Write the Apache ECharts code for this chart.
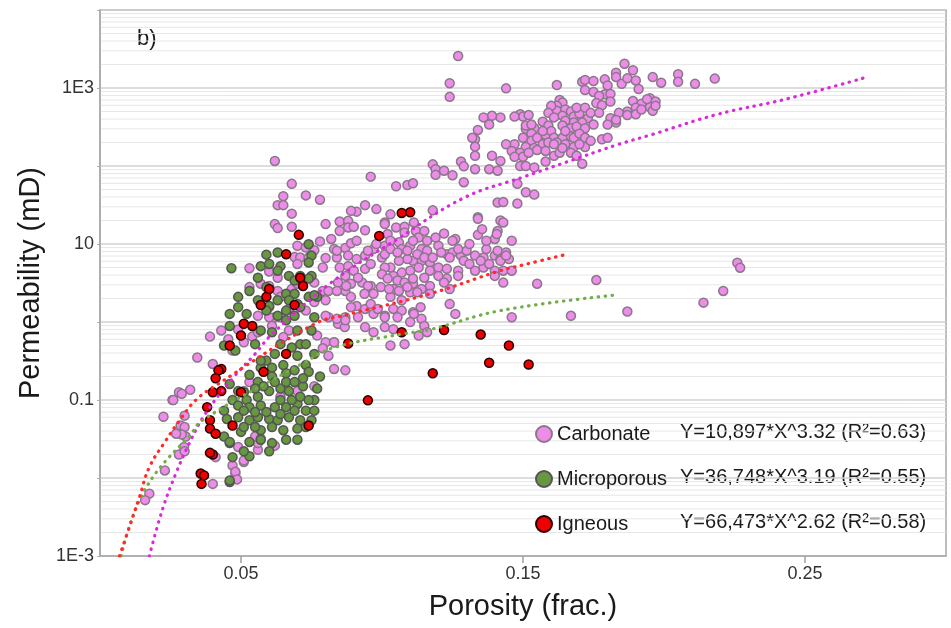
<!DOCTYPE html>
<html>
<head>
<meta charset="utf-8">
<script src="https://cdn.jsdelivr.net/npm/echarts@6/dist/echarts.min.js"></script>
<style>
  html, body { margin: 0; padding: 0; background: #ffffff; }
  #chart { width: 951px; height: 628px; }
</style>
</head>
<body>
<div id="chart"></div>
<script>
// Porosity (fraction) vs permeability (mD) samples by rock type
const carbonate = [
  [0.186,2050],[0.189,1690],[0.183,1570],[0.183,1380],[0.185,1130],[0.187,1330],[0.190,1250],[0.191,970],[0.196,1380],[0.199,1170],
  [0.205,1500],[0.205,1200],[0.211,1130],[0.218,1320],[0.144,990],[0.162,1090],[0.171,1200],[0.172,1270],[0.175,1230],[0.179,1290],
  [0.180,1080],[0.172,940],[0.175,890],[0.179,830],[0.181,840],[0.177,790],[0.181,670],[0.176,640],[0.178,600],[0.189,680],
  [0.192,630],[0.195,740],[0.197,670],[0.195,570],[0.196,510],[0.190,560],[0.187,500],[0.184,480],[0.187,450],[0.190,460],
  [0.181,410],[0.183,360],[0.180,340],[0.163,700],[0.164,650],[0.162,590],[0.162,510],[0.165,530],[0.167,500],[0.164,440],
  [0.168,430],[0.170,470],[0.173,410],[0.171,360],[0.168,360],[0.165,380],[0.164,330],[0.167,305],[0.169,320],[0.172,305],
  [0.175,340],[0.157,370],[0.159,330],[0.154,305],[0.151,300],[0.153,260],[0.150,230],[0.153,210],[0.155,230],[0.158,250],
  [0.160,280],[0.161,230],[0.164,230],[0.167,240],[0.168,230],[0.170,260],[0.172,230],[0.157,190],[0.159,200],[0.162,200],
  [0.165,190],[0.168,175],[0.172,175],[0.151,175],[0.154,170],[0.147,190],[0.144,190],[0.146,156],[0.149,148],[0.147,131],
  [0.150,131],[0.152,148],[0.155,160],[0.158,156],[0.158,114],[0.161,135],[0.163,148],[0.167,148],[0.169,135],[0.171,107],
  [0.178,220],[0.180,230],[0.149,100],[0.151,100],[0.154,96],[0.149,460],[0.150,430],[0.147,430],[0.152,450],[0.142,420],
  [0.139,440],[0.136,420],[0.138,340],[0.134,290],[0.133,220],[0.132,230],[0.133,135],[0.139,135],[0.142,116],[0.138,91],
  [0.141,87],[0.133,91],[0.194,720],
  [0.160,590],[0.159,480],[0.161,420],[0.169,560],[0.172,560],[0.174,480],[0.165,280],[0.151,330],[0.153,340],[0.157,280],
  [0.161,190],[0.164,170],[0.170,190],[0.174,210],[0.177,480],[0.183,390],[0.192,530],[0.197,590],
  [0.127,2570],[0.124,1150],[0.124,770],[0.133,177],[0.128,114],[0.129,99],[0.118,105],[0.119,91],[0.122,87],[0.119,77],
  [0.125,76],[0.129,62],[0.148,59],[0.151,46],[0.154,43],[0.141,34],[0.143,34.5],[0.148,33],[0.096,73],[0.105,55],
  [0.109,57],[0.111,60],[0.073,42],[0.078,37],[0.091,26],[0.094,31.5],[0.098,28],[0.103,24],[0.118,27],[0.134,22],[0.142,20],
  [0.085,19.4],[0.088,19.8],[0.088,16.3],[0.090,16.6],[0.094,15],[0.085,14.7],[0.101,18.9],[0.102,13.4],[0.105,16.3],[0.108,16.6],
  [0.108,14],[0.112,14.7],[0.113,12.1],[0.116,11],[0.122,13.6],[0.126,11.6],[0.134,21],[0.134,13.1],[0.143,18.9],[0.141,14.7],
  [0.140,11.6],[0.082,11.6],[0.083,8.6],[0.087,8.9],[0.089,10.2],[0.091,11],[0.084,6.7],[0.088,7.1],[0.091,6.4],[0.094,7.1],
  [0.085,5.0],[0.088,5.2],[0.087,3.9],[0.090,4.55],[0.094,4.8],[0.096,5.55],[0.100,6.7],[0.097,8.6],[0.101,9.5],[0.103,11],
  [0.106,10.5],[0.107,8.6],[0.110,9.5],[0.111,11],[0.114,8.6],[0.116,8.2],[0.120,9.5],[0.123,7.4],[0.125,7.8],[0.128,7.1],
  [0.130,8.2],[0.133,7.1],[0.136,6.7],[0.140,7.1],[0.142,6.4],[0.145,6.4],[0.141,8.2],[0.144,7.8],[0.137,8.6],[0.127,8.6],
  [0.117,5.8],[0.114,6.1],[0.111,6.1],[0.109,6.4],[0.106,6.1],[0.103,5.0],[0.101,5.0],[0.100,4.1],[0.104,3.9],[0.107,4.3],
  [0.110,4.55],[0.113,5.0],[0.117,4.55],[0.120,5.0],[0.123,4.8],[0.127,4.55],[0.133,4.55],[0.136,5.0],[0.140,4.55],[0.143,4.55],
  [0.146,4.55],[0.089,3.1],[0.093,3.2],[0.096,2.9],[0.102,3.6],[0.111,3.1],[0.114,2.65],[0.117,2.9],[0.123,3.6],[0.124,2.65],
  [0.127,3.9],[0.140,3.9],[0.143,3.2],[0.087,2.5],[0.089,2.1],[0.097,2.3],[0.104,2.65],[0.106,2.5],[0.107,1.9],[0.103,2.1],
  [0.110,2.4],[0.117,2.3],[0.124,1.7],[0.126,1.27],[0.091,1.6],[0.094,1.47],[0.097,1.27],[0.101,1.2],[0.104,1.47],[0.107,1.4],
  [0.111,1.33],[0.114,1.1],[0.115,0.89],[0.087,1.15],[0.085,0.95],[0.094,0.86],[0.097,0.74],[0.101,0.86],[0.104,0.81],[0.110,1.0],
  [0.113,0.67],[0.116,0.74],[0.146,1.15],[0.083,0.55],[0.103,0.5],[0.108,0.52],
  [0.095,8.2],[0.098,10],[0.101,7.4],[0.103,8.6],[0.1055,7.8],[0.109,8.2],[0.1125,7.4],[0.115,6.7],[0.118,6.7],[0.121,7.8],
  [0.124,6.7],[0.129,6.1],[0.131,5.55],[0.135,6.1],[0.138,5.55],[0.142,6.1],[0.144,7.1],[0.1055,3.4],[0.108,3.2],[0.111,3.6],
  [0.115,3.7],[0.120,3.9],[0.122,3.2],[0.0996,2.8],[0.1025,2.65],[0.095,2.9],[0.0915,3.7],[0.0844,3.2],[0.0873,2.9],[0.0938,2.3],
  [0.109,2.8],[0.1125,2.4],[0.096,1.7],[0.0985,1.47],[0.101,1.15],[0.1055,1.15],[0.1113,1.27],[0.1137,1.55],[0.089,1.55],[0.0915,1.15],
  [0.0844,0.95],[0.0868,0.86],[0.101,18],[0.1113,18.9],[0.115,14.7],[0.119,12.1],[0.125,11],[0.131,10],[0.137,11],[0.146,11],
  [0.1407,13.4],[0.1355,15.5],[0.089,26.6],
  [0.155,3.1],[0.176,3.45],[0.167,1.2],[0.187,1.36],[0.226,5.75],[0.227,4.97],[0.221,2.5],[0.214,1.77],
  [0.062,116],[0.068,59],[0.065,41],[0.063,31.5],[0.065,31.5],[0.068,24.5],[0.062,18],[0.063,16],[0.068,16.6],[0.080,18],
  [0.078,10.8],[0.070,9.5],[0.073,9.0],[0.076,8.3],[0.080,6.6],[0.084,8.2],[0.069,6.8],[0.071,6.7],[0.053,4.9],[0.060,4.45],
  [0.063,3.7],[0.070,5.55],[0.074,6.7],[0.079,5.0],[0.076,3.2],[0.079,2.5],[0.081,2.5],[0.053,2.8],[0.057,3.1],[0.060,2.9],
  [0.063,2.5],[0.064,2.1],[0.068,2.65],[0.070,3.1],[0.060,1.55],[0.062,1.15],[0.056,1.2],[0.067,1.47],[0.073,1.4],[0.076,1.8],
  [0.080,1.9],[0.084,2.5],[0.081,1.15],
  [0.039,0.65],[0.0345,0.35],[0.040,0.29],[0.047,0.43],[0.028,0.126],[0.032,0.135],[0.0257,0.1],[0.030,0.063],[0.0286,0.047],[0.0304,0.034],
  [0.0298,0.025],[0.041,0.0185],[0.047,0.0145],[0.048,0.0114],[0.040,0.0084],[0.051,0.016],[0.049,0.025],[0.056,0.023],[0.056,0.028],[0.051,0.55],
  [0.054,0.65],[0.056,0.74],[0.060,1.15],[0.064,1.15],[0.061,0.89],[0.067,0.78],[0.065,0.64],[0.080,1.2],[0.084,1.1],[0.087,1.05],
  [0.077,0.67],[0.080,0.55],[0.083,0.55],[0.079,0.46],[0.081,0.37],[0.083,0.25],[0.087,0.24],[0.076,0.15],[0.070,0.13],[0.064,0.11],
  [0.053,0.17],[0.051,0.13],[0.055,0.034],[0.057,0.032],[0.062,0.026],[0.043,0.78],[0.049,0.8],[0.0455,0.6],
  [0.0225,0.061],[0.030,0.045],[0.029,0.036],[0.028,0.02],[0.030,0.022],[0.023,0.0125],[0.0175,0.0063],[0.016,0.0052],[0.048,0.012],[0.0486,0.0096],
  [0.051,0.0168],[0.027,0.037],[0.026,0.1],[0.029,0.12]
];

const microporous = [
  [0.0466,4.9],[0.059,7.3],[0.057,5.2],[0.063,7.8],[0.064,5.2],[0.074,9.95],[0.075,7.1],[0.067,3.9],[0.071,3.9],[0.075,3.9],
  [0.049,2.1],[0.056,1.9],[0.060,1.6],[0.066,2.3],[0.069,2.3],[0.074,2.1],[0.077,2.1],[0.067,1.9],[0.070,1.7],[0.049,1.55],
  [0.046,1.27],[0.052,1.27],[0.063,1.2],[0.076,1.15],[0.069,1.2],
  [0.053,2.5],[0.060,5.55],[0.074,5.8],[0.056,3.7],[0.059,2.8],[0.063,4.55],[0.069,3.4],[0.074,3.6],[0.076,2.2],[0.071,1.55],
  [0.066,1.4],[0.059,1.4],[0.063,1.9],
  [0.046,0.89],[0.057,0.78],[0.061,0.74],[0.044,0.5],[0.048,0.43],[0.059,0.32],[0.057,0.26],[0.061,0.26],[0.065,0.28],[0.070,0.37],
  [0.071,0.52],[0.073,0.52],[0.073,0.28],[0.076,0.39],[0.074,0.23],[0.069,0.24],[0.066,0.22],[0.061,0.2],[0.056,0.17],[0.051,0.126],
  [0.049,0.13],[0.047,0.1],[0.052,0.1],[0.056,0.11],[0.060,0.13],[0.064,0.14],[0.067,0.13],[0.072,0.15],[0.076,0.1],[0.074,0.1],
  [0.070,0.089],[0.066,0.081],[0.062,0.081],[0.057,0.085],[0.053,0.081],[0.049,0.085],[0.044,0.073],[0.045,0.057],[0.049,0.06],[0.053,0.055],
  [0.056,0.06],[0.060,0.057],[0.063,0.055],[0.067,0.06],[0.071,0.055],[0.075,0.055],[0.070,0.031],[0.057,0.041],[0.053,0.019],[0.047,0.0185],
  [0.050,0.039],[0.044,0.034],[0.046,0.028],[0.061,0.028],[0.060,0.022],[0.046,0.0089],[0.065,0.041],
  [0.046,0.16],[0.053,0.21],[0.055,0.14],[0.058,0.15],[0.062,0.17],[0.066,0.17],[0.069,0.17],[0.064,0.1],[0.068,0.1],[0.071,0.11],
  [0.051,0.073],[0.055,0.07],[0.059,0.07],[0.064,0.066],[0.069,0.073],[0.073,0.073],[0.076,0.073],[0.051,0.045],[0.055,0.045],[0.061,0.045],
  [0.070,0.043],[0.073,0.045],[0.053,0.029],[0.057,0.031],[0.066,0.031],[0.051,0.022],[0.057,0.32],[0.062,0.39],[0.068,0.47],[0.064,0.52],
  [0.075,0.78],[0.070,0.78],[0.066,1.05],[0.055,0.52],[0.072,0.19],[0.078,0.2],[0.077,0.14],[0.046,0.029],[0.046,0.0093]
];

const igneous = [
  [0.107,25],[0.110,25.5],[0.099,12.7],[0.107,0.74],[0.122,0.79],[0.135,0.69],[0.145,0.5],[0.088,0.53],[0.138,0.3],[0.152,0.285],
  [0.118,0.22],[0.095,0.099],[0.0705,13.1],[0.066,7.4],[0.071,3.7],[0.072,2.9],[0.059,2.1],[0.057,1.65],[0.069,1.65],[0.060,2.65],
  [0.051,0.95],[0.054,0.89],[0.050,0.67],[0.046,0.5],[0.043,0.25],[0.042,0.24],[0.041,0.19],[0.040,0.126],[0.043,0.13],[0.050,0.126],
  [0.038,0.081],[0.039,0.055],[0.039,0.043],[0.041,0.037],[0.040,0.02],[0.0357,0.0114],[0.0369,0.0108],[0.036,0.0084],[0.047,0.047],[0.074,0.047],
  [0.066,0.39],[0.058,0.23],[0.039,0.021]
];

// Power-law trend curves, sampled along each fitted line
const carbonateFit = [
  [0.0175,0.001],[0.0222,0.004],[0.0269,0.0114],[0.0316,0.0275],[0.0374,0.067],[0.0474,0.196],[0.055,0.39],[0.061,0.7],
  [0.082,3.2],[0.1055,11.6],[0.129,39],[0.150,72],[0.170,128],[0.184,190],[0.196,255],[0.219,460],[0.243,717],[0.272,1380]
];
const microporousFit = [
  [0.0075,0.001],[0.0099,0.0021],[0.014,0.0052],[0.0187,0.0102],[0.0245,0.0185],[0.0316,0.034],[0.0363,0.055],
  [0.0715,0.29],[0.083,0.47],[0.107,0.7],[0.117,0.8],[0.142,1.4],[0.182,2.2]
];
const igneousFit = [
  [0.0069,0.001],[0.0105,0.0024],[0.014,0.0057],[0.0175,0.0138],[0.0233,0.03],[0.029,0.06],[0.034,0.1],[0.041,0.153],
  [0.0762,0.95],[0.088,1.25],[0.117,2.3],[0.142,4.55],[0.151,5.5],[0.165,7.3]
];

const seriesNames = ['Carbonate', 'Microporous', 'Igneous'];
const fitLabels = ['Y=10,897*X^3.32 (R\u00B2=0.63)', 'Y=36,748*X^3.19 (R\u00B2=0.55)', 'Y=66,473*X^2.62 (R\u00B2=0.58)'];
const xTickValues = [0.05, 0.15, 0.25];
const xTickLabels = ['0.05', '0.15', '0.25'];
const yTickValues = [0.001, 0.1, 10, 1000];
const yTickLabels = ['1E-3', '0.1', '10', '1E3'];

// Minor log grid lines at 2..9 within each decade
const minorGrid = [];
for (let e = -3; e <= 3; e++) {
  for (let m = 2; m <= 9; m++) minorGrid.push([0, m * Math.pow(10, e)]);
}

const FONT = '"Liberation Sans", Arial, sans-serif';
const colors = {
  carbonate: { fill: '#ee8ce9', border: '#8a788a' },
  micro: { fill: '#67973f', border: '#555555' },
  igneous: { fill: '#ee0000', border: '#2a0000' }
};

function dotted(color) {
  return { color: color, width: 3.2, type: [0.5, 6.5], cap: 'round' };
}

const chart = echarts.init(document.getElementById('chart'), null, { renderer: 'canvas' });

const legendTop = 419;
const legendPitch = 45;

chart.setOption({
  animation: false,
  backgroundColor: '#ffffff',
  textStyle: { fontFamily: FONT },
  grid: {
    left: 100, top: 10, right: 5, bottom: 72,
    show: true, borderColor: '#a8a8a8', borderWidth: 1.5, backgroundColor: 'transparent'
  },
  xAxis: {
    type: 'value', min: 0, max: 0.3, interval: 0.05,
    name: 'Porosity (frac.)', nameLocation: 'middle', nameGap: 36,
    nameTextStyle: { fontSize: 29, color: '#1a1a1a', fontFamily: FONT },
    axisLine: { lineStyle: { color: '#a8a8a8', width: 1.5 } },
    axisTick: { show: true, customValues: xTickValues, length: 7, lineStyle: { color: '#a0a0a0', width: 1.5 } },
    axisLabel: {
      customValues: xTickValues, margin: 9, fontSize: 18, color: '#333', fontFamily: FONT,
      formatter: function (v) {
        const i = xTickValues.findIndex(t => Math.abs(t - v) < 1e-9);
        return i >= 0 ? xTickLabels[i] : '';
      }
    },
    splitLine: { show: false }
  },
  yAxis: {
    type: 'log', logBase: 10, min: 0.001, max: 10000, splitNumber: 7,
    name: 'Permeability (mD)', nameLocation: 'middle', nameGap: 50,
    nameTextStyle: { fontSize: 29, color: '#1a1a1a', fontFamily: FONT },
    axisLine: { show: true, lineStyle: { color: '#a8a8a8', width: 1.5 } },
    axisTick: { show: true, length: 3, lineStyle: { color: '#b0b0b0' } },
    axisLabel: {
      margin: 6, fontSize: 18, color: '#333', fontFamily: FONT,
      formatter: function (v) {
        const i = yTickValues.findIndex(t => Math.abs(Math.log10(t) - Math.log10(v)) < 1e-6);
        return i >= 0 ? yTickLabels[i] : '';
      }
    },
    splitLine: { show: true, lineStyle: { color: '#d2d2d2', width: 1.6 } }
  },
  legend: {
    data: seriesNames,
    orient: 'vertical', left: 530, top: legendTop,
    icon: 'circle', itemWidth: 16, itemHeight: 16, itemGap: legendPitch - 20,
    textStyle: { fontSize: 20, color: '#1a1a1a', fontFamily: FONT, lineHeight: 20 },
    selectedMode: false
  },
  graphic: [
    { type: 'text', left: 137, top: 28, style: { text: 'b)', fontSize: 22, fill: '#1a1a1a', fontFamily: FONT } }
  ].concat(fitLabels.map((t, i) => ({
    type: 'text', x: 680, y: 432 + i * legendPitch,
    style: { text: t, fontSize: 20, fill: '#1a1a1a', fontFamily: FONT, verticalAlign: 'middle' }
  }))),
  series: [
    {
      type: 'custom', silent: true, z: 0,
      data: minorGrid, encode: { x: 0, y: 1 },
      renderItem: function (params, api) {
        const cs = params.coordSys;
        const y = api.coord([0, api.value(1)])[1];
        return {
          type: 'line',
          shape: { x1: cs.x, y1: y, x2: cs.x + cs.width, y2: y },
          style: { stroke: '#e7e7e7', lineWidth: 1 }
        };
      }
    },
    {
      name: 'Carbonate', type: 'scatter', data: carbonate, symbolSize: 9, z: 2,
      itemStyle: { color: colors.carbonate.fill, borderColor: colors.carbonate.border, borderWidth: 1.5, opacity: 1 }
    },
    {
      name: 'Microporous', type: 'scatter', data: microporous, symbolSize: 9, z: 3,
      itemStyle: { color: colors.micro.fill, borderColor: colors.micro.border, borderWidth: 1.5, opacity: 1 }
    },
    {
      name: 'Igneous', type: 'scatter', data: igneous, symbolSize: 9, z: 4,
      itemStyle: { color: colors.igneous.fill, borderColor: colors.igneous.border, borderWidth: 1.5, opacity: 1 }
    },
    { type: 'line', data: carbonateFit, smooth: 0.4, showSymbol: false, silent: true, z: 6, lineStyle: dotted('#d82ad8') },
    { type: 'line', data: microporousFit, smooth: 0.4, showSymbol: false, silent: true, z: 6, lineStyle: dotted('#72ad45') },
    { type: 'line', data: igneousFit, smooth: 0.4, showSymbol: false, silent: true, z: 6, lineStyle: dotted('#ff2a2a') }
  ]
});
</script>
</body>
</html>
